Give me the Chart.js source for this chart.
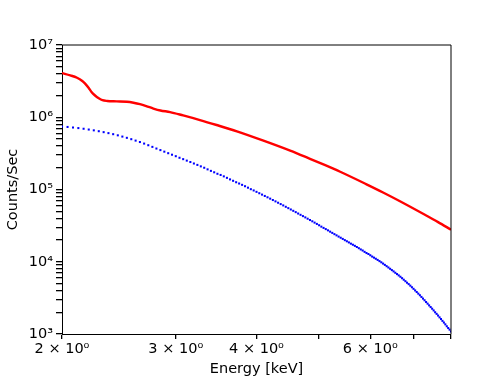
<!DOCTYPE html>
<html><head><meta charset="utf-8">
<script src="https://cdn.jsdelivr.net/npm/chart.js@4.4.1/dist/chart.umd.min.js"></script>
<style>html,body{margin:0;padding:0;background:#fff;overflow:hidden}canvas{display:block}</style>
</head><body>
<canvas id="c" width="501" height="376"></canvas>
<script>
// Energy grid of the blue (dotted) series, keV
const energy = [
 2.00,2.04,2.08,2.12,2.16,2.20,2.24,2.28,2.32,2.36,
 2.40,2.44,2.48,2.52,2.56,2.60,2.64,2.68,2.72,2.76,
 2.80,2.84,2.88,2.92,2.96,3.00,3.04,3.08,3.12,3.16,
 3.20,3.24,3.28,3.32,3.36,3.40,3.44,3.48,3.52,3.56,
 3.60,3.64,3.68,3.72,3.76,3.80,3.84,3.88,3.92,3.96,
 4.00,4.04,4.08,4.12,4.16,4.20,4.24,4.28,4.32,4.36,
 4.40,4.44,4.48,4.52,4.56,4.60,4.64,4.68,4.72,4.76,
 4.80,4.84,4.88,4.92,4.96,5.00,5.04,5.08,5.12,5.16,
 5.20,5.24,5.28,5.32,5.36,5.40,5.44,5.48,5.52,5.56,
 5.60,5.64,5.68,5.72,5.76,5.80,5.84,5.88,5.92,5.96,
 6.00,6.04,6.08,6.12,6.16,6.20,6.24,6.28,6.32,6.36,
 6.40,6.44,6.48,6.52,6.56,6.60,6.64,6.68,6.72,6.76,
 6.80,6.84,6.88,6.92,6.96,7.00,7.04,7.08,7.12,7.16,
 7.20,7.24,7.28,7.32,7.36,7.40,7.44,7.48,7.52,7.56,
 7.60,7.64,7.68,7.72,7.76,7.80,7.84,7.88,7.92,7.96,
 8.00
];
// Blue series, counts/sec
const blueCounts = [
 745000,734000,721000,708000,693000,676000,659000,641000,622000,603000,
 583000,562000,540000,519000,497000,475000,454000,432000,410000,389000,
 369000,351000,334000,318000,303000,289000,275000,263000,251000,240000,
 229000,219000,209000,200000,190000,181000,173000,165000,159000,152000,
 145000,138000,132000,126000,121000,116000,111000,106000,101000,97000,
 92800,88800,85000,81400,78000,74700,71500,68500,65600,62800,
 60200,57600,55200,52900,50700,48600,46500,44600,42800,41100,
 39400,37800,36300,34800,33400,32000,30600,29400,28300,27200,
 26100,25100,24100,23200,22300,21500,20700,19900,19200,18500,
 17800,17200,16600,16000,15400,14800,14300,13700,13200,12800,
 12300,11800,11400,11000,10600,10200,9820,9430,9050,8680,
 8330,7990,7660,7350,7040,6750,6470,6200,5920,5640,
 5380,5130,4900,4670,4440,4220,4010,3810,3620,3440,
 3260,3090,2930,2770,2630,2490,2360,2240,2120,2000,
 1900,1800,1700,1610,1520,1440,1360,1280,1210,1150,
 1080
];
// Red series (solid line)
const redEnergy = [2.00,2.06,2.11,2.15,2.17,2.20,2.22,2.25,2.28,2.31,2.35,2.43,2.52,2.58,2.64,2.70,2.77,2.84,2.94,3.08,3.27,3.47,3.73,4.09,4.51,4.84,5.11,5.39,5.92,6.28,6.67,7.29,7.64,8.00];
const redCounts = [4090000,3800000,3520000,3180000,2950000,2540000,2260000,2000000,1830000,1720000,1680000,1660000,1640000,1590000,1520000,1430000,1320000,1240000,1180000,1060000,915000,781000,638000,478000,345000,266000,217000,176000,118000,91000,68800,44700,35400,27800];

const xTickValues = [2,3,4,5,6,7,8];
const xTickLabels = {2:'2 × 10⁰',3:'3 × 10⁰',4:'4 × 10⁰',6:'6 × 10⁰'};
const yTickValues = [
 1000,2000,3000,4000,5000,6000,7000,8000,9000,
 10000,20000,30000,40000,50000,60000,70000,80000,90000,
 100000,200000,300000,400000,500000,600000,700000,800000,900000,
 1000000,2000000,3000000,4000000,5000000,6000000,7000000,8000000,9000000,
 10000000
];
const yTickLabels = {1000:'10³',10000:'10⁴',100000:'10⁵',1000000:'10⁶',10000000:'10⁷'};

const FONT = 'DejaVu Sans';
const frame = {
  id:'frame',
  afterDraw(chart){
    const {ctx, chartArea:a} = chart;
    ctx.save();
    ctx.strokeStyle = '#000';
    ctx.lineWidth = 1;
    ctx.beginPath();
    ctx.moveTo(a.left, a.top);
    ctx.lineTo(a.right, a.top);
    ctx.lineTo(a.right, a.bottom);
    ctx.stroke();
    ctx.restore();
  }
};

new Chart(document.getElementById('c'), {
  type:'scatter',
  data:{datasets:[
    {
      label:'red',
      data: redEnergy.map((e,i)=>({x:e,y:redCounts[i]})),
      showLine:true,
      borderColor:'#ff0000',
      borderWidth:2.4,
      pointRadius:0,
      cubicInterpolationMode:'monotone',
      order:0
    },
    {
      label:'blue',
      data: energy.map((e,i)=>({x:e,y:blueCounts[i]})),
      showLine:false,
      pointStyle:'rect',
      pointRadius:1.45,
      borderWidth:0,
      backgroundColor:'#0000ff',
      order:1
    }
  ]},
  options:{
    responsive:false,
    animation:false,
    devicePixelRatio:1,
    layout:{padding:{left:0,right:50,top:45,bottom:0}},
    plugins:{legend:{display:false},tooltip:{enabled:false}},
    scales:{
      x:{
        type:'logarithmic',
        min:2, max:8,
        afterBuildTicks(s){ s.ticks = xTickValues.map(v=>({value:v})); },
        afterFit(s){ s.height = 42; },
        ticks:{
          autoSkip:false, maxRotation:0, minRotation:0,
          padding:2, color:'#000',
          font:{family:FONT,size:14.5},
          callback:(v)=> xTickLabels[v] ?? ''
        },
        grid:{drawOnChartArea:false, drawTicks:true, tickLength:5, color:'#000', lineWidth:1.3},
        border:{display:true,color:'#000',width:1},
        title:{display:true,text:'Energy [keV]',color:'#000',font:{family:FONT,size:14.5,lineHeight:1},padding:{top:0,bottom:0}}
      },
      y:{
        type:'logarithmic',
        min:1000, max:10000000,
        afterBuildTicks(s){ s.ticks = yTickValues.map(v=>({value:v})); },
        afterFit(s){ s.width = 62; },
        ticks:{
          autoSkip:false, padding:3, color:'#000',
          font:{family:FONT,size:14.5},
          callback:(v)=> yTickLabels[v] ?? ''
        },
        grid:{drawOnChartArea:false, drawTicks:true, tickLength:6, color:'#000', lineWidth:1.3},
        border:{display:true,color:'#000',width:1},
        title:{display:true,text:'Counts/Sec',color:'#000',font:{family:FONT,size:14.5},padding:{top:5,bottom:0}}
      }
    }
  },
  plugins:[frame]
});
</script>
</body></html>
